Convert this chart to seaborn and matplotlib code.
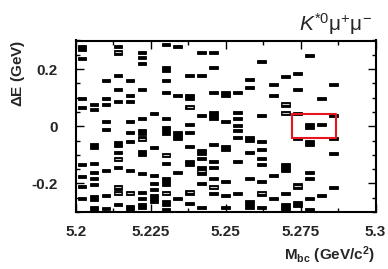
import matplotlib
matplotlib.use('Agg')
import matplotlib.pyplot as plt
from matplotlib.ticker import MultipleLocator
import seaborn as sns
import numpy as np

# Mbc bin centres (GeV/c^2)
mbc_bins = [5.202, 5.206, 5.210, 5.214, 5.218, 5.222, 5.226, 5.230, 5.234, 5.238, 5.242,
            5.246, 5.250, 5.254, 5.258, 5.262, 5.266, 5.270, 5.274, 5.278, 5.282, 5.286]

# dE of filled boxes, one list per Mbc bin
de_filled = [
    [0.274, 0.237, 0.096, 0.067, -0.133, -0.175, -0.212, -0.254],
    [0.077, 0.058, -0.069, -0.131, -0.162, -0.183, -0.203, -0.250, -0.288],
    [0.160, 0.096, 0.077, 0.018, -0.012, -0.155, -0.244, -0.288],
    [0.278, 0.176, 0.129, 0.088, -0.061, -0.093, -0.143, -0.273],
    [0.160, 0.108, 0.088, 0.018, -0.021, -0.052, -0.155, -0.287],
    [0.258, 0.240, 0.219, 0.129, 0.027, -0.021, -0.095, -0.165, -0.232, -0.253, -0.279],
    [0.046, -0.073, -0.174, -0.201, -0.221, -0.253],
    [0.287, 0.202, 0.160, 0.117, 0.027, -0.014, -0.132, -0.194, -0.268, -0.293],
    [0.278, 0.107, -0.033, -0.162, -0.252],
    [0.178, 0.101, 0.005, -0.022, -0.071, -0.130, -0.272],
    [0.257, 0.178, 0.037, -0.091, -0.113, -0.201, -0.285],
    [0.257, 0.206, 0.118, 0.036, -0.065, -0.124, -0.143, -0.182, -0.234],
    [0.113, 0.018, -0.077, -0.193, -0.243, -0.284],
    [0.117, 0.047, 0.027, 0.002, -0.015, -0.040, -0.122, -0.234],
    [0.165, 0.137, -0.045, -0.092, -0.184, -0.275],
    [0.227, 0.037, -0.053, -0.081, -0.112, -0.133, -0.193, -0.284],
    [0.146, 0.106, -0.172, -0.252],
    [0.175, -0.143, -0.234, -0.283],
    [0.185, 0.127, 0.045, -0.043, -0.272],
    [0.247, 0.000, -0.059, -0.162, -0.182, -0.252, -0.291],
    [0.097, 0.007, -0.243],
    [0.146, 0.037, -0.043, -0.094, -0.213],
]
# entries in each filled box
n_filled = [
    [2, 1, 1, 1, 1, 1, 1, 1],
    [1, 1, 2, 1, 1, 1, 1, 2, 2],
    [1, 1, 1, 1, 1, 1, 1, 1],
    [1, 1, 1, 1, 2, 1, 1, 1],
    [1, 1, 1, 1, 1, 1, 1, 2],
    [1, 1, 1, 1, 1, 2, 2, 1, 1, 1, 2],
    [1, 1, 1, 1, 1, 3],
    [1, 2, 1, 1, 1, 3, 1, 3, 2, 1],
    [1, 1, 3, 1, 1],
    [1, 2, 1, 1, 1, 2, 1],
    [1, 1, 1, 2, 1, 1, 1],
    [1, 1, 1, 3, 1, 1, 1, 1, 1],
    [2, 1, 2, 1, 1, 1],
    [1, 1, 1, 1, 1, 1, 1, 1],
    [1, 1, 2, 1, 1, 3],
    [1, 1, 1, 1, 1, 1, 1, 1],
    [1, 1, 1, 1],
    [1, 3, 1, 3],
    [1, 1, 1, 1, 2],
    [1, 2, 2, 1, 1, 1, 1],
    [1, 1, 1],
    [1, 1, 1, 1, 1],
]

# overlapping boxes (drawn with a light seam)
hollow_mbc = [5.214, 5.214, 5.214, 5.214, 5.218, 5.222, 5.230, 5.230, 5.238, 5.238,
              5.242, 5.246, 5.262, 5.270, 5.270, 5.274]
hollow_de = [0.259, -0.114, -0.214, -0.233, -0.234, -0.043, -0.101, -0.233, 0.067, -0.231,
             -0.155, -0.212, -0.235, 0.077, 0.047, -0.209]
hollow_n = [2, 2, 2, 2, 2, 2, 2, 2, 2, 2, 4, 2, 2, 2, 2, 3]

# signal box
sig_mbc = [5.2722, 5.2867]
sig_de = [-0.041, 0.043]

sns.set_style('ticks')
plt.rcParams['font.family'] = ['Liberation Sans', 'DejaVu Sans']
plt.rcParams['axes.unicode_minus'] = False
plt.rcParams['mathtext.fontset'] = 'custom'
plt.rcParams['mathtext.rm'] = 'Liberation Sans'
plt.rcParams['mathtext.it'] = 'Liberation Sans:italic'
plt.rcParams['mathtext.bf'] = 'Liberation Sans:bold'

fig = plt.figure(figsize=(3.88, 2.69), dpi=100)
ax = fig.add_axes([76 / 388, 1 - 212 / 269, 299.5 / 388, 171.5 / 269])

bw = 0.0029
x = np.concatenate([[m] * len(d) for m, d in zip(mbc_bins, de_filled)])
y = np.concatenate(de_filled)
n = np.concatenate(n_filled)
h = 0.0105 * n
ax.bar(x, h, bottom=y - h / 2, width=bw, color='black', edgecolor='black', linewidth=0.6)

hx = np.array(hollow_mbc)
hy = np.array(hollow_de)
hh = 0.0080 * np.array(hollow_n)
ax.bar(hx, hh, bottom=hy - hh / 2, width=bw, color='black', edgecolor='black', linewidth=0.6)
ax.hlines(hy, hx - bw * 0.38, hx + bw * 0.38, color='#c8c8c8', lw=0.8)

ax.plot([sig_mbc[0], sig_mbc[1], sig_mbc[1], sig_mbc[0], sig_mbc[0]],
        [sig_de[0], sig_de[0], sig_de[1], sig_de[1], sig_de[0]],
        color='#e8141c', lw=1.5)

ax.set_xlim(5.2, 5.3)
ax.set_ylim(-0.3, 0.3)
ax.set_xticks([5.2, 5.225, 5.25, 5.275, 5.3])
ax.set_xticklabels(['5.2', '5.225', '5.25', '5.275', '5.3'])
ax.set_yticks([-0.2, 0, 0.2])
ax.set_yticklabels(['-0.2', '0', '0.2'])
ax.xaxis.set_minor_locator(MultipleLocator(0.0125))
ax.yaxis.set_minor_locator(MultipleLocator(0.05))
ax.tick_params(which='both', direction='in', top=True, right=True, width=1, color='black')
ax.tick_params(which='major', length=6)
ax.tick_params(which='minor', length=3)
ax.tick_params(axis='x', which='major', pad=9, labelsize=11)
ax.tick_params(axis='y', which='major', pad=13, labelsize=11)
for lab in ax.get_xticklabels() + ax.get_yticklabels():
    lab.set_fontweight('bold')
for s in ax.spines.values():
    s.set_linewidth(1.5)
    s.set_color('black')

fig.text(18 / 388, 1 - 40 / 269, r'$\mathbf{\Delta}$E (GeV)', rotation=90, ha='center', va='top',
         fontsize=11, fontweight='bold')
fig.text(375 / 388, 1 - 255 / 269, r'M$_{\mathbf{bc}}$ (GeV/c$^{\mathbf{2}}$)', ha='right',
         va='center', fontsize=11, fontweight='bold')
fig.text(372 / 388, 1 - 31 / 269, r'$K^{*0}\mathrm{\mu^{+}\mu^{-}}$', ha='right', va='baseline',
         fontsize=15)

fig.savefig('out.png', dpi=100)
